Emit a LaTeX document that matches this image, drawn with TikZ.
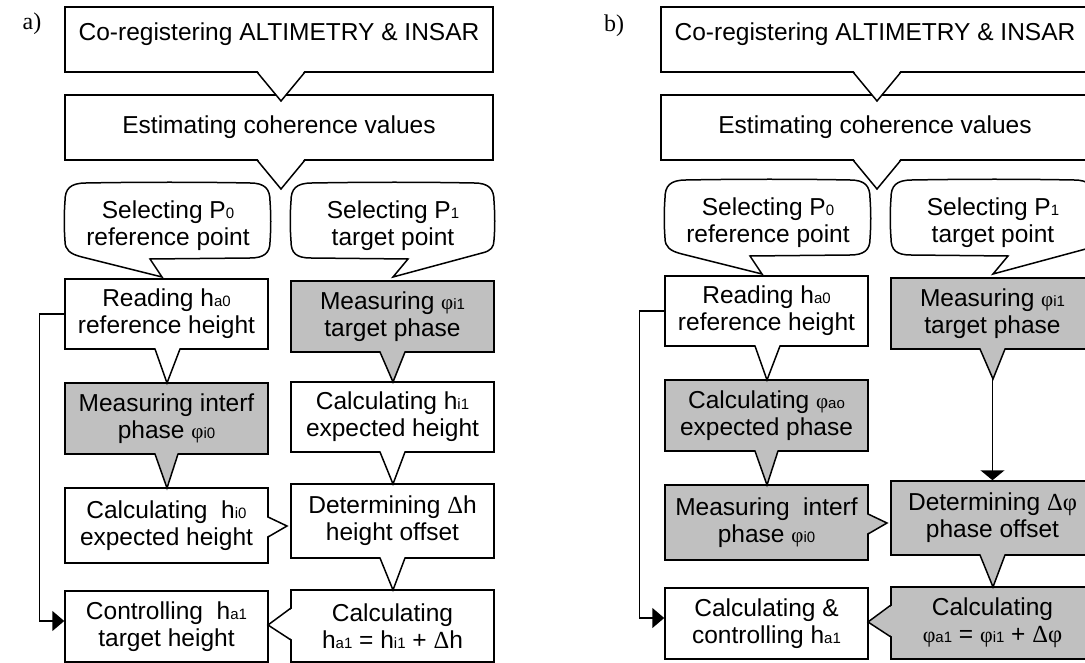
\documentclass[tikz,border=0pt]{standalone}
\usepackage{fontspec}
\setmainfont{Liberation Sans}
\newfontfamily\grk{Liberation Serif}
\usetikzlibrary{calc,arrows.meta}
\definecolor{boxgray}{RGB}{192,192,192}
\newcommand{\sbx}[1]{{\fontsize{15}{15}\selectfont #1}}
\newcommand{\phs}[2][21]{{\grk\fontsize{#1}{#1}\selectfont φ}\sbx{#2}}
\newcommand{\dlt}{{\grk Δ}}
\newcommand{\wdg}[5]{\fill[#1] ($#2+#5$) -- #3 -- ($#4+#5$) -- cycle; \draw[bline] #2 -- #3 -- #4;}
\newcommand{\selzero}{%
 \draw[bline, fill=white] (65,201) .. controls (65,189) and (70,183) .. (86,183) .. controls (140,182) and (200,182) .. (250,183) .. controls (265,183) and (270,189) .. (270,201) .. controls (271,215) and (271,228) .. (270,242) .. controls (270,253) and (264,258) .. (250,258) -- (150,259) -- (162,277) -- (82,257) .. controls (70,254) and (65,250) .. (65,241) .. controls (64,228) and (64,214) .. (65,201) -- cycle;}
\newcommand{\selone}{%
 \draw[bline, fill=white] (291,201) .. controls (291,189) and (296,183) .. (312,183) .. controls (370,182) and (420,182) .. (474,183) .. controls (489,183) and (494,189) .. (494,201) .. controls (495,215) and (495,228) .. (494,240) .. controls (494,247) and (491,251) .. (482,253) -- (393,277) -- (408,259) -- (311,258) .. controls (296,258) and (291,253) .. (291,241) .. controls (290,228) and (290,214) .. (291,201) -- cycle;}
\begin{document}
\begin{tikzpicture}[x=1pt, y=-1pt,
  bline/.style={line width=1.5pt, line join=miter},
  txt/.style={inner sep=0pt, align=center, font=\fontsize{24.5}{27}\selectfont},
  box/.style={draw, bline, txt},
  wbox/.style={box, fill=white},
  gbox/.style={box, fill=boxgray},
  colbox/.style={minimum width=203pt},
  widebox/.style={minimum width=428pt, minimum height=65pt},
  lbl/.style={inner sep=0pt, font=\grk\fontsize{24}{24}\selectfont}]
\path[use as bounding box, clip] (0,0) rectangle (1085,663);

% ================= panel a =================
\node[lbl] (la) at (32,24) {a)};
\node[wbox, widebox, text height=17pt, text depth=14pt] (aco) at (279,39.5) {Co-registering ALTIMETRY \& INSAR};
\node[wbox, widebox] (aest) at (279,127.5) {Estimating coherence values};
\wdg{white}{(257,72)}{(281,101)}{(305,72)}{(0,-2)}
\selzero
\selone
\node[txt] (asp0) at (168,226) {Selecting P\sbx{0}\\reference point};
\node[txt] (asp1) at (393,226) {Selecting P\sbx{1}\\target point};
\wdg{white}{(257,160)}{(281,189)}{(305,160)}{(0,-2)}
% left column
\node[wbox, colbox, minimum height=70pt] (aread) at (166.5,314) {Reading h\sbx{a0}\\reference height};
\node[gbox, colbox, minimum height=71pt] (ameas) at (166.5,418.5) {Measuring interf\\phase \phs{i0}};
\wdg{white}{(155,349)}{(167,383)}{(180,349)}{(0,-2)}
\node[wbox, colbox, minimum height=75pt] (acalc0) at (166.5,525.5) {Calculating\ \ h\sbx{i0}\\expected height};
\wdg{boxgray}{(155,454)}{(167,488)}{(178,454)}{(0,-2)}
\node[wbox, colbox, minimum height=71pt] (actrl) at (166.5,626.5) {Controlling\ \ h\sbx{a1}\\target height};
% right column
\node[gbox, colbox, minimum height=71pt] (ameasp) at (392.5,316.5) {Measuring \phs{i1}\\target phase};
\node[wbox, colbox, minimum height=70pt] (acalc1) at (392.5,417) {Calculating h\sbx{i1}\\expected height};
\wdg{boxgray}{(380,352)}{(393,382)}{(405,352)}{(0,-2)}
\node[wbox, colbox, minimum height=74pt] (adet) at (392.5,521) {Determining \dlt h\\height offset};
\wdg{white}{(380,452)}{(393,484)}{(405,452)}{(0,-2)}
\node[wbox, colbox, minimum height=72pt] (acalca) at (392.5,626) {Calculating\\h\sbx{a1} = h\sbx{i1} + \dlt h};
\wdg{white}{(380,558)}{(393,590)}{(405,558)}{(0,-2)}
\wdg{white}{(268,517)}{(287,526)}{(268,537)}{(-2,0)}
\wdg{white}{(291,608)}{(268,625)}{(291,640)}{(2,0)}
\draw[bline, -{Triangle[length=12pt,width=20pt]}] (aread.west) -- ++(-25,0) |- ($(actrl.west)+(0,-5.5)$);

% ================= panel b =================
\node[lbl] (lb) at (614,25.5) {b)};
\begin{scope}[shift={(596,0)}]
\node[wbox, widebox, text height=17pt, text depth=14pt] (bco) at (279,39.5) {Co-registering ALTIMETRY \& INSAR};
\node[wbox, widebox] (best) at (279,127.5) {Estimating coherence values};
\wdg{white}{(257,72)}{(281,101)}{(305,72)}{(0,-2)}
\end{scope}
\begin{scope}[shift={(600,-3)}]
\selzero
\selone
\node[txt] (bsp0) at (168,226) {Selecting P\sbx{0}\\reference point};
\node[txt] (bsp1) at (393,226) {Selecting P\sbx{1}\\target point};
\end{scope}
\begin{scope}[shift={(596,0)}]
\wdg{white}{(257,160)}{(281,189)}{(305,160)}{(0,-2)}
\end{scope}
\begin{scope}[shift={(600,-3)}]
% left column
\node[wbox, colbox, minimum height=70pt] (bread) at (166.5,314) {Reading h\sbx{a0}\\reference height};
\node[gbox, colbox, minimum height=71pt] (bcalcp) at (166.5,418.5) {Calculating \phs{ao}\\expected phase};
\wdg{white}{(155,349)}{(167,383)}{(180,349)}{(0,-2)}
\node[gbox, colbox, minimum height=75pt] (bmeasi) at (166.5,525.5) {Measuring\ \ interf\\phase \phs{i0}};
\wdg{boxgray}{(155,454)}{(167,488)}{(178,454)}{(0,-2)}
\node[wbox, colbox, minimum height=71pt] (bcc) at (166.5,626.5) {Calculating \&\\controlling h\sbx{a1}};
% right column
\node[gbox, colbox, minimum height=71pt] (bmeasp) at (392.5,316.5) {Measuring \phs{i1}\\target phase};
\wdg{boxgray}{(380,352)}{(393,382)}{(405,352)}{(0,-2)}
\coordinate (btip) at (392.5,382);
\node[gbox, colbox, minimum height=74pt] (bdet) at (392.5,521) {Determining \dlt{\grk φ}\\phase offset};
\node[gbox, colbox, minimum height=72pt] (bcalca) at (392.5,626) {Calculating\\\phs[22]{a1} = \phs[22]{i1} + \dlt{\grk φ}};
\wdg{boxgray}{(380,558)}{(393,590)}{(405,558)}{(0,-2)}
\wdg{boxgray}{(268,517)}{(287,526)}{(268,537)}{(-2,0)}
\wdg{boxgray}{(291,608)}{(268,625)}{(291,640)}{(2,0)}
\draw[bline, -{Triangle[length=10pt,width=24pt]}] (btip) -- (bdet.north);
\draw[bline, -{Triangle[length=12pt,width=20pt]}] (bread.west) -- ++(-25,0) |- ($(bcc.west)+(0,-5.5)$);
\end{scope}
\end{tikzpicture}
\end{document}
